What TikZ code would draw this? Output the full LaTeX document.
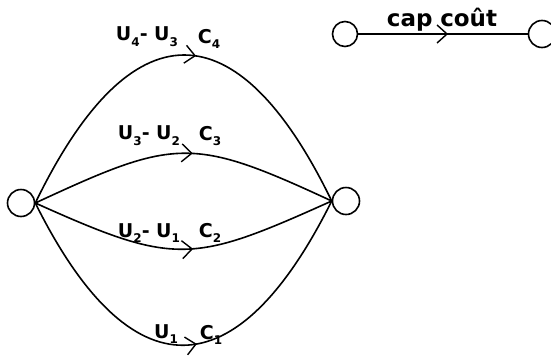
\documentclass[tikz,border=0pt]{standalone}
\usepackage{fontspec}
\setmainfont{DejaVu Sans}
\usetikzlibrary{arrows.meta, decorations.markings}

\newcommand\lowidx[1]{\raisebox{-0.55ex}{\fontsize{12}{13}\selectfont #1}}

\begin{document}
\begin{tikzpicture}[
  x=1pt, y=-1pt,
  line width=1.6pt,
  vertex/.style={draw, circle, minimum size=27pt, inner sep=0pt},
  flow/.style={
    postaction={decorate},
    decoration={markings,
      mark=at position 0.53 with {\arrow{Straight Barb[length=10pt, width=18pt, line width=1.4pt]}}}
  },
  lbl/.style={font=\fontsize{19}{21}\selectfont\bfseries, inner sep=0pt}
]
\useasboundingbox (0,0) rectangle (551,362);

% =========================
% Legend
% =========================
\node[vertex, minimum size=25pt] (ka) at (345,34) {};
\node[vertex, minimum size=27pt] (kb) at (542,34) {};
\draw[flow] (ka) -- (kb);
\node[font=\fontsize{23}{26}\selectfont\bfseries, inner sep=0pt] (kl) at (442,20) {cap\,\,coût};

% =========================
% Network
% =========================
\node[vertex] (s) at (21,203) {};
\node[vertex] (t) at (346,201) {};

\draw[flow] (s.east) .. controls +(95,-196) and +(-95,-196) .. (t.west);
\draw[flow] (s.east) .. controls +(140,-65) and +(-140,-65) .. (t.west);
\draw[flow] (s.east) .. controls +(140,63) and +(-140,63) .. (t.west);
\draw[flow] (s.east) .. controls +(95,191) and +(-95,191) .. (t.west);

% labels
\node[lbl] (u4) at (147,37) {U\lowidx{4}- U\lowidx{3}};
\node[lbl] (c4) at (209,39) {C\lowidx{4}};
\node[lbl] (u3) at (149,136) {U\lowidx{3}- U\lowidx{2}};
\node[lbl] (c3) at (210,136) {C\lowidx{3}};
\node[lbl] (u2) at (149,233) {U\lowidx{2}- U\lowidx{1}};
\node[lbl] (c2) at (210,233) {C\lowidx{2}};
\node[lbl] (u1) at (166,334) {U\lowidx{1}};
\node[lbl] (c1) at (211,335) {C\lowidx{1}};

\end{tikzpicture}
\end{document}
